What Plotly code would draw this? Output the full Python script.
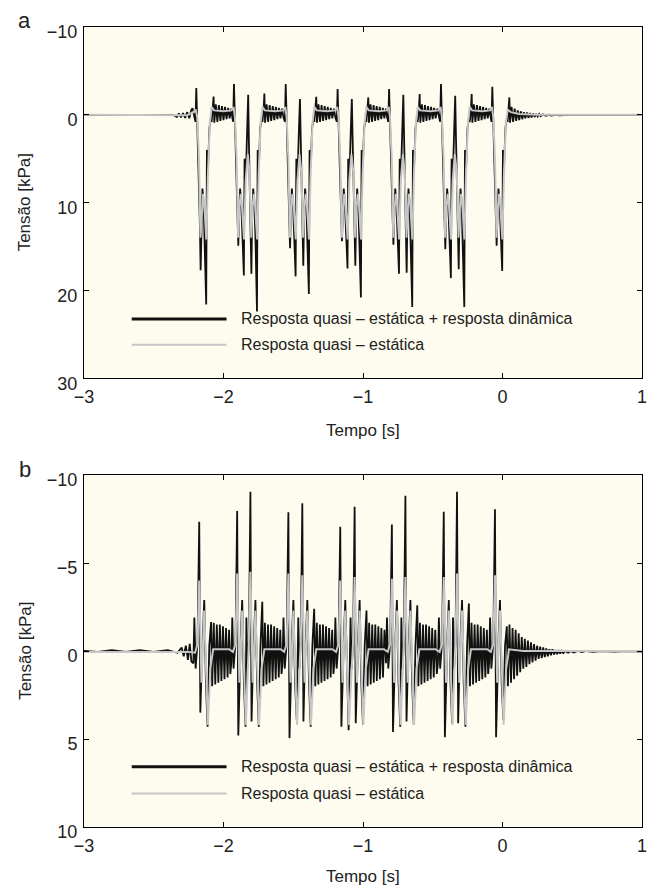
import plotly.graph_objects as go

# ---------------- data ----------------
X_TICKS = [-3, -2, -1, 0, 1]
A_Y_TICKS = [-10, 0, 10, 20, 30]
B_Y_TICKS = [-10, -5, 0, 5, 10]

SERIES_NAMES = ["Resposta quasi – estática + resposta dinâmica", "Resposta quasi – estática"]

# panel a : quasi-static + dynamic response (t [s], tension [kPa])
A_BLACK = [
    (-3.000, 0.0), (-2.360, 0.0), (-2.335, 0.25), (-2.320, -0.15), (-2.305, 0.3), (-2.290, -0.2),
    (-2.275, 0.35), (-2.260, -0.3), (-2.245, 0.4), (-2.232, -0.5), (-2.222, -0.75), (-2.212, 0.2),
    (-2.201, 0.8), (-2.195, -3.04), (-2.189, 0.6), (-2.179, 4.0), (-2.170, 12.0), (-2.164, 17.7),
    (-2.159, 12.0), (-2.151, 8.4), (-2.143, 10.0), (-2.135, 14.0), (-2.124, 21.6), (-2.119, 4.0),
    (-2.111, 6.0), (-2.101, 1.5), (-2.091, 0.5), (-2.085, 0.8), (-2.077, -0.4), (-2.071, -2.09), (-2.066, 0.9),
    (-2.055, -1.2), (-2.044, 0.8), (-2.033, -1.1), (-2.022, 0.7), (-2.011, -1.0), (-2.000, 0.6),
    (-1.989, -0.9), (-1.978, 0.5), (-1.967, -0.8), (-1.956, 0.4), (-1.945, -0.7), (-1.937, 0.3),
    (-1.931, 0.8), (-1.925, -3.5), (-1.919, 0.6), (-1.909, 4.0), (-1.900, 12.0), (-1.894, 14.9),
    (-1.889, 12.0), (-1.881, 8.4), (-1.873, 10.0), (-1.865, 14.0), (-1.854, 18.3), (-1.849, 5.0),
    (-1.840, 7.0), (-1.830, 1.5), (-1.823, -2.28), (-1.818, 3.0),
    (-1.809, 9.0), (-1.800, 18.1), (-1.795, 12.0), (-1.787, 8.4), (-1.779, 10.0), (-1.771, 14.0),
    (-1.760, 22.4), (-1.755, 4.0), (-1.747, 6.0), (-1.737, 1.5), (-1.727, 0.5), (-1.721, 0.8),
    (-1.713, -0.4), (-1.707, -2.43), (-1.702, 0.9),
    (-1.691, -1.2), (-1.680, 0.8), (-1.669, -1.1), (-1.658, 0.7), (-1.647, -1.0), (-1.636, 0.6),
    (-1.625, -0.9), (-1.614, 0.5), (-1.603, -0.8), (-1.592, 0.4), (-1.581, -0.7), (-1.570, 0.3),
    (-1.560, 0.8), (-1.554, -3.5), (-1.548, 0.6), (-1.538, 4.0), (-1.529, 12.0), (-1.523, 15.2),
    (-1.518, 12.0), (-1.510, 8.4), (-1.502, 10.0), (-1.494, 14.0), (-1.483, 18.4), (-1.478, 5.0),
    (-1.469, 7.0), (-1.459, 1.5), (-1.452, -1.79), (-1.446, 3.0),
    (-1.437, 9.0), (-1.428, 17.2), (-1.423, 12.0), (-1.415, 8.4), (-1.407, 10.0), (-1.399, 14.0),
    (-1.388, 20.4), (-1.383, 4.0), (-1.375, 6.0), (-1.365, 1.5), (-1.355, 0.5), (-1.349, 0.8),
    (-1.341, -0.4), (-1.335, -2.05), (-1.330, 0.9),
    (-1.319, -1.2), (-1.308, 0.8), (-1.297, -1.1), (-1.286, 0.7), (-1.275, -1.0), (-1.264, 0.6),
    (-1.253, -0.9), (-1.242, 0.5), (-1.231, -0.8), (-1.220, 0.4), (-1.209, -0.7), (-1.198, 0.3),
    (-1.188, 0.8), (-1.182, -2.93), (-1.176, 0.6), (-1.166, 4.0), (-1.157, 12.0), (-1.151, 14.4),
    (-1.146, 12.0), (-1.138, 8.4), (-1.130, 10.0), (-1.122, 14.0), (-1.111, 17.5), (-1.106, 5.0),
    (-1.097, 7.0), (-1.087, 1.5), (-1.080, -1.79), (-1.074, 3.0),
    (-1.064, 9.0), (-1.055, 17.2), (-1.050, 12.0), (-1.042, 8.4), (-1.034, 10.0), (-1.026, 14.0),
    (-1.015, 20.8), (-1.010, 4.0), (-1.002, 6.0), (-0.992, 1.5), (-0.982, 0.5), (-0.976, 0.8),
    (-0.968, -0.4), (-0.962, -1.98), (-0.957, 0.9),
    (-0.946, -1.2), (-0.935, 0.8), (-0.924, -1.1), (-0.913, 0.7), (-0.902, -1.0), (-0.891, 0.6),
    (-0.880, -0.9), (-0.869, 0.5), (-0.858, -0.8), (-0.847, 0.4), (-0.836, -0.7), (-0.827, 0.3),
    (-0.819, 0.8), (-0.813, -2.93), (-0.807, 0.6), (-0.797, 4.0), (-0.788, 12.0), (-0.782, 14.8),
    (-0.777, 12.0), (-0.769, 8.4), (-0.761, 10.0), (-0.753, 14.0), (-0.742, 18.1), (-0.737, 5.0),
    (-0.728, 7.0), (-0.718, 1.5), (-0.711, -2.28), (-0.705, 3.0),
    (-0.696, 9.0), (-0.687, 18.0), (-0.682, 12.0), (-0.674, 8.4), (-0.666, 10.0), (-0.658, 14.0),
    (-0.647, 21.9), (-0.642, 4.0), (-0.634, 6.0), (-0.624, 1.5), (-0.614, 0.5), (-0.608, 0.8),
    (-0.600, -0.4), (-0.594, -2.36), (-0.589, 0.9),
    (-0.578, -1.2), (-0.567, 0.8), (-0.556, -1.1), (-0.545, 0.7), (-0.534, -1.0), (-0.523, 0.6),
    (-0.512, -0.9), (-0.501, 0.5), (-0.490, -0.8), (-0.479, 0.4), (-0.468, -0.7), (-0.457, 0.3),
    (-0.447, 0.8), (-0.441, -3.5), (-0.435, 0.6), (-0.425, 4.0), (-0.416, 12.0), (-0.410, 15.3),
    (-0.405, 12.0), (-0.397, 8.4), (-0.389, 10.0), (-0.381, 14.0), (-0.370, 18.6), (-0.365, 5.0),
    (-0.356, 7.0), (-0.346, 1.5), (-0.339, -2.17), (-0.333, 3.0),
    (-0.323, 9.0), (-0.314, 17.6), (-0.309, 12.0), (-0.301, 8.4), (-0.293, 10.0), (-0.285, 14.0),
    (-0.274, 21.9), (-0.269, 4.0), (-0.261, 6.0), (-0.251, 1.5), (-0.241, 0.5), (-0.235, 0.8),
    (-0.227, -0.4), (-0.221, -2.36), (-0.216, 0.9),
    (-0.205, -1.2), (-0.194, 0.8), (-0.183, -1.1), (-0.172, 0.7), (-0.161, -1.0), (-0.150, 0.6),
    (-0.139, -0.9), (-0.128, 0.5), (-0.117, -0.8), (-0.106, 0.4), (-0.095, -0.7), (-0.087, 0.3),
    (-0.079, 0.8), (-0.073, -3.19), (-0.067, 0.6), (-0.057, 4.0), (-0.048, 12.0), (-0.042, 14.9),
    (-0.037, 12.0), (-0.029, 8.4), (-0.021, 10.0), (-0.013, 14.0), (-0.002, 17.8), (0.003, 4.0),
    (0.011, 6.0), (0.021, 1.5), (0.031, 0.5), (0.037, 0.8), (0.044, -0.4), (0.049, -1.98), (0.054, 0.9),
    (0.065, -0.9), (0.076, 0.8), (0.087, -0.7), (0.098, 0.7), (0.109, -0.5), (0.120, 0.6),
    (0.131, -0.4), (0.142, 0.5), (0.153, -0.3), (0.164, 0.4), (0.175, -0.25), (0.186, 0.35),
    (0.197, -0.2), (0.208, 0.3), (0.219, -0.15), (0.230, 0.25), (0.241, -0.1), (0.252, 0.2),
    (0.263, -0.1), (0.274, 0.15), (0.290, -0.05), (0.310, 0.1), (0.330, 0.0), (0.350, 0.08),
    (0.380, 0.0), (0.410, 0.05), (0.470, 0.0), (1.000, 0.0),
]

# panel a : quasi-static response
A_GREY = [
    (-3.000, 0.0), (-2.360, 0.0), (-2.260, 0.05), (-2.215, -0.3), (-2.200, -0.6),
    (-2.188, 0.3), (-2.176, 5.0), (-2.165, 14.0), (-2.155, 10.5), (-2.147, 9.0), (-2.139, 10.0),
    (-2.131, 13.0), (-2.123, 14.2), (-2.112, 7.0), (-2.098, 1.0), (-2.085, -0.9),
    (-2.068, -0.5), (-2.000, -0.4), (-1.943, -0.5), (-1.928, -0.9),
    (-1.918, 0.3), (-1.906, 5.0), (-1.895, 14.0), (-1.885, 10.5), (-1.877, 9.0), (-1.869, 10.0),
    (-1.861, 13.0), (-1.853, 14.2), (-1.841, 7.5), (-1.826, 4.5),
    (-1.814, 6.5), (-1.801, 14.0), (-1.791, 10.5), (-1.783, 9.0), (-1.775, 10.0), (-1.767, 13.0),
    (-1.759, 14.2), (-1.748, 7.0), (-1.734, 1.0), (-1.721, -0.9),
    (-1.704, -0.5), (-1.630, -0.4), (-1.572, -0.5), (-1.557, -0.9),
    (-1.547, 0.3), (-1.535, 5.0), (-1.524, 14.0), (-1.514, 10.5), (-1.506, 9.0), (-1.498, 10.0),
    (-1.490, 13.0), (-1.482, 14.2), (-1.470, 7.5), (-1.455, 4.5),
    (-1.442, 6.5), (-1.429, 14.0), (-1.419, 10.5), (-1.411, 9.0), (-1.403, 10.0), (-1.395, 13.0),
    (-1.387, 14.2), (-1.376, 7.0), (-1.362, 1.0), (-1.349, -0.9),
    (-1.332, -0.5), (-1.255, -0.4), (-1.200, -0.5), (-1.185, -0.9),
    (-1.175, 0.3), (-1.163, 5.0), (-1.152, 14.0), (-1.142, 10.5), (-1.134, 9.0), (-1.126, 10.0),
    (-1.118, 13.0), (-1.110, 14.2), (-1.098, 7.5), (-1.083, 4.5),
    (-1.069, 6.5), (-1.056, 14.0), (-1.046, 10.5), (-1.038, 9.0), (-1.030, 10.0), (-1.022, 13.0),
    (-1.014, 14.2), (-1.003, 7.0), (-0.989, 1.0), (-0.976, -0.9),
    (-0.959, -0.5), (-0.885, -0.4), (-0.831, -0.5), (-0.816, -0.9),
    (-0.806, 0.3), (-0.794, 5.0), (-0.783, 14.0), (-0.773, 10.5), (-0.765, 9.0), (-0.757, 10.0),
    (-0.749, 13.0), (-0.741, 14.2), (-0.729, 7.5), (-0.714, 4.5),
    (-0.701, 6.5), (-0.688, 14.0), (-0.678, 10.5), (-0.670, 9.0), (-0.662, 10.0), (-0.654, 13.0),
    (-0.646, 14.2), (-0.635, 7.0), (-0.621, 1.0), (-0.608, -0.9),
    (-0.591, -0.5), (-0.515, -0.4), (-0.459, -0.5), (-0.444, -0.9),
    (-0.434, 0.3), (-0.422, 5.0), (-0.411, 14.0), (-0.401, 10.5), (-0.393, 9.0), (-0.385, 10.0),
    (-0.377, 13.0), (-0.369, 14.2), (-0.357, 7.5), (-0.342, 4.5),
    (-0.328, 6.5), (-0.315, 14.0), (-0.305, 10.5), (-0.297, 9.0), (-0.289, 10.0), (-0.281, 13.0),
    (-0.273, 14.2), (-0.262, 7.0), (-0.248, 1.0), (-0.235, -0.9),
    (-0.218, -0.5), (-0.145, -0.4), (-0.091, -0.5), (-0.076, -0.9),
    (-0.066, 0.3), (-0.054, 5.0), (-0.043, 14.0), (-0.033, 10.5), (-0.025, 9.0), (-0.017, 10.0),
    (-0.009, 13.0), (-0.001, 14.2), (0.010, 7.0), (0.024, 1.0), (0.037, -0.6),
    (0.060, -0.3), (0.120, -0.1), (0.250, 0.0), (1.000, 0.0),
]

# panel b : quasi-static + dynamic response
B_BLACK = [
    (-3.000, 0.0), (-2.900, 0.05), (-2.800, -0.05), (-2.700, 0.05), (-2.600, -0.05), (-2.500, 0.05),
    (-2.400, -0.05), (-2.330, 0.1), (-2.300, -0.2), (-2.285, 0.3), (-2.270, -0.3), (-2.255, 0.5),
    (-2.242, -0.4), (-2.230, 0.6),
    (-2.216, 0.7), (-2.209, -1.9), (-2.200, 1.0), (-2.186, -0.5), (-2.174, -7.34), (-2.166, 3.5),
    (-2.157, 1.0), (-2.148, -0.8), (-2.138, -2.9), (-2.126, 1.8), (-2.114, 4.3), (-2.102, -0.3),
    (-2.089, -1.65), (-2.081, 2.0),
    (-2.070, -1.6), (-2.059, 1.9), (-2.048, -1.5), (-2.037, 1.8), (-2.026, -1.5), (-2.015, 1.7),
    (-2.004, -1.4), (-1.993, 1.6), (-1.982, -1.3), (-1.971, 1.5), (-1.960, -1.2), (-1.951, 1.3),
    (-1.944, 0.7), (-1.937, -1.9), (-1.928, 1.0), (-1.914, -0.5), (-1.902, -7.95), (-1.894, 4.8),
    (-1.885, 1.0), (-1.876, -0.8), (-1.866, -2.9), (-1.854, 1.8), (-1.842, 4.3),
    (-1.836, -1.9), (-1.828, 1.0), (-1.818, -0.5), (-1.807, -9.05), (-1.799, 4.0), (-1.790, 1.0),
    (-1.781, -0.8), (-1.771, -2.9), (-1.759, 1.8), (-1.747, 4.3), (-1.735, -0.3), (-1.722, -2.8), (-1.714, 2.0),
    (-1.703, -1.6), (-1.692, 1.9), (-1.681, -1.5), (-1.670, 1.8), (-1.659, -1.5), (-1.648, 1.7),
    (-1.637, -1.4), (-1.626, 1.6), (-1.615, -1.3), (-1.604, 1.5), (-1.593, -1.2), (-1.584, 1.3),
    (-1.577, 0.7), (-1.570, -1.9), (-1.561, 1.0), (-1.547, -0.5), (-1.535, -7.89), (-1.527, 4.95),
    (-1.518, 1.0), (-1.509, -0.8), (-1.499, -2.9), (-1.487, 1.8), (-1.475, 3.9),
    (-1.464, -1.9), (-1.456, 1.0), (-1.446, -0.5), (-1.435, -8.39), (-1.427, 4.0), (-1.418, 1.0),
    (-1.409, -0.8), (-1.399, -2.9), (-1.387, 1.8), (-1.375, 4.3), (-1.363, -0.3), (-1.350, -2.4), (-1.342, 2.0),
    (-1.331, -1.6), (-1.320, 1.9), (-1.309, -1.5), (-1.298, 1.8), (-1.287, -1.5), (-1.276, 1.7),
    (-1.265, -1.4), (-1.254, 1.6), (-1.243, -1.3), (-1.232, 1.5), (-1.221, -1.2), (-1.212, 1.3),
    (-1.205, 0.7), (-1.198, -1.9), (-1.189, 1.0), (-1.175, -0.5), (-1.163, -7.06), (-1.155, 4.3),
    (-1.146, 1.0), (-1.137, -0.8), (-1.127, -2.9), (-1.115, 1.8), (-1.103, 4.5),
    (-1.089, -1.9), (-1.081, 1.0), (-1.071, -0.5), (-1.060, -8.2), (-1.052, 4.1), (-1.043, 1.0),
    (-1.034, -0.8), (-1.024, -2.9), (-1.012, 1.8), (-1.000, 4.2), (-0.988, -0.3), (-0.975, -2.3), (-0.967, 2.0),
    (-0.956, -1.6), (-0.945, 1.9), (-0.934, -1.5), (-0.923, 1.8), (-0.912, -1.5), (-0.901, 1.7),
    (-0.890, -1.4), (-0.879, 1.6), (-0.868, -1.3), (-0.857, 1.5), (-0.846, -1.2),
    (-0.835, 0.7), (-0.828, -1.9), (-0.819, 1.0), (-0.805, -0.5), (-0.793, -7.19), (-0.785, 4.6),
    (-0.776, 1.0), (-0.767, -0.8), (-0.757, -2.9), (-0.745, 1.8), (-0.733, 4.3),
    (-0.725, -1.9), (-0.717, 1.0), (-0.707, -0.5), (-0.696, -8.82), (-0.688, 4.0), (-0.679, 1.0),
    (-0.670, -0.8), (-0.660, -2.9), (-0.648, 1.8), (-0.636, 4.2), (-0.624, -0.3), (-0.611, -2.6), (-0.603, 2.0),
    (-0.592, -1.6), (-0.581, 1.9), (-0.570, -1.5), (-0.559, 1.8), (-0.548, -1.5), (-0.537, 1.7),
    (-0.526, -1.4), (-0.515, 1.6), (-0.504, -1.3), (-0.493, 1.5), (-0.482, -1.2), (-0.471, 1.3),
    (-0.463, 0.7), (-0.456, -1.9), (-0.447, 1.0), (-0.433, -0.5), (-0.421, -7.91), (-0.413, 4.9),
    (-0.404, 1.0), (-0.395, -0.8), (-0.385, -2.9), (-0.373, 1.8), (-0.361, 4.1),
    (-0.355, -1.9), (-0.347, 1.0), (-0.337, -0.5), (-0.326, -9.05), (-0.318, 4.1), (-0.309, 1.0),
    (-0.300, -0.8), (-0.290, -2.9), (-0.278, 1.8), (-0.266, 4.3), (-0.254, -0.3), (-0.241, -2.7), (-0.233, 2.0),
    (-0.222, -1.6), (-0.211, 1.9), (-0.200, -1.5), (-0.189, 1.8), (-0.178, -1.5), (-0.167, 1.7),
    (-0.156, -1.4), (-0.145, 1.6), (-0.134, -1.3), (-0.123, 1.5), (-0.112, -1.2), (-0.103, 1.3),
    (-0.096, 0.7), (-0.089, -1.9), (-0.080, 1.0), (-0.066, -0.5), (-0.054, -8.05), (-0.046, 4.9),
    (-0.037, 1.0), (-0.028, -0.8), (-0.018, -2.9), (-0.006, 1.8), (0.006, 3.9), (0.018, -0.3),
    (0.031, -1.4), (0.039, 2.0),
    (0.050, -1.5), (0.061, 1.8), (0.072, -1.3), (0.083, 1.6), (0.094, -1.2), (0.105, 1.4),
    (0.116, -1.0), (0.127, 1.2), (0.138, -0.8), (0.149, 1.0), (0.160, -0.7), (0.171, 0.9),
    (0.182, -0.6), (0.193, 0.75), (0.204, -0.5), (0.215, 0.65), (0.226, -0.4), (0.237, 0.55),
    (0.248, -0.3), (0.259, 0.45), (0.270, -0.25), (0.281, 0.4), (0.292, -0.2), (0.303, 0.35),
    (0.314, -0.15), (0.325, 0.3), (0.336, -0.1), (0.347, 0.25), (0.358, -0.1), (0.369, 0.2),
    (0.380, -0.05), (0.391, 0.18), (0.402, -0.05), (0.413, 0.15), (0.424, 0.0), (0.435, 0.12),
    (0.450, 0.0), (0.470, 0.1), (0.490, 0.0), (0.510, 0.08), (0.540, 0.0), (0.570, 0.06),
    (0.600, 0.0), (0.650, 0.05), (0.700, 0.0), (0.800, 0.04), (0.900, 0.0), (1.000, 0.03),
]

# panel b : quasi-static response
B_GREY = [
    (-3.000, 0.05), (-2.250, 0.05), (-2.204, 0.1),
    (-2.186, -0.4), (-2.174, -4.0), (-2.158, 1.8), (-2.138, -2.3), (-2.112, 4.2), (-2.094, 1.0),
    (-2.080, 0.3), (-2.074, -0.1), (-1.960, -0.1), (-1.932, 0.05),
    (-1.914, -0.4), (-1.902, -4.4), (-1.886, 1.8), (-1.866, -2.3), (-1.840, 4.2),
    (-1.819, -0.4), (-1.807, -4.5), (-1.791, 1.8), (-1.771, -2.3), (-1.745, 4.2), (-1.727, 1.0),
    (-1.713, 0.3), (-1.707, -0.1), (-1.590, -0.1), (-1.565, 0.05),
    (-1.547, -0.4), (-1.535, -4.4), (-1.519, 1.8), (-1.499, -2.3), (-1.473, 4.2),
    (-1.447, -0.4), (-1.435, -4.3), (-1.419, 1.8), (-1.399, -2.3), (-1.373, 4.2), (-1.355, 1.0),
    (-1.341, 0.3), (-1.335, -0.1), (-1.220, -0.1), (-1.193, 0.05),
    (-1.175, -0.4), (-1.163, -4.0), (-1.147, 1.8), (-1.127, -2.3), (-1.101, 4.2),
    (-1.072, -0.4), (-1.060, -4.2), (-1.044, 1.8), (-1.024, -2.3), (-0.998, 4.2), (-0.980, 1.0),
    (-0.966, 0.3), (-0.960, -0.1), (-0.850, -0.1), (-0.823, 0.05),
    (-0.805, -0.4), (-0.793, -4.1), (-0.777, 1.8), (-0.757, -2.3), (-0.731, 4.2),
    (-0.708, -0.4), (-0.696, -4.2), (-0.680, 1.8), (-0.660, -2.3), (-0.634, 4.2), (-0.616, 1.0),
    (-0.602, 0.3), (-0.596, -0.1), (-0.480, -0.1), (-0.451, 0.05),
    (-0.433, -0.4), (-0.421, -4.2), (-0.405, 1.8), (-0.385, -2.3), (-0.359, 4.2),
    (-0.338, -0.4), (-0.326, -4.4), (-0.310, 1.8), (-0.290, -2.3), (-0.264, 4.2), (-0.246, 1.0),
    (-0.232, 0.3), (-0.226, -0.1), (-0.110, -0.1), (-0.084, 0.05),
    (-0.066, -0.4), (-0.054, -4.3), (-0.038, 1.8), (-0.018, -2.3), (0.008, 4.2), (0.026, 1.0),
    (0.040, 0.3), (0.046, -0.1), (0.150, 0.0), (1.000, 0.0),
]

# ---------------- styling ----------------
BLACK = "#111111"
GREY = "#c6c6c6"
TEXT = "#222222"
FONT = "Liberation Sans, Arial, Helvetica, sans-serif"
BG = "#fdfcef"

fig = go.Figure()


def cols(pairs):
    return [p[0] for p in pairs], [p[1] for p in pairs]


for blk, gry, xa, ya in [(A_BLACK, A_GREY, "x", "y"), (B_BLACK, B_GREY, "x2", "y2")]:
    t, v = cols(blk)
    fig.add_trace(go.Scatter(x=t, y=v, mode="lines", name=SERIES_NAMES[0],
                             line=dict(color=BLACK, width=1.8), xaxis=xa, yaxis=ya,
                             showlegend=False, hoverinfo="skip"))
    t, v = cols(gry)
    fig.add_trace(go.Scatter(x=t, y=v, mode="lines", name=SERIES_NAMES[1],
                             line=dict(color=GREY, width=2), xaxis=xa, yaxis=ya,
                             showlegend=False, hoverinfo="skip"))

axis_common = dict(
    showline=True, linecolor="black", linewidth=1, mirror="ticks",
    ticks="inside", ticklen=5, tickwidth=1, tickcolor="black",
    showgrid=False, zeroline=False,
    tickfont=dict(family=FONT, size=18, color=TEXT),
)

DOM_A = [0.561, 1.0]
DOM_B = [0.0, 0.44]

fig.update_layout(
    width=655, height=888,
    # the page adds an 8 px body margin; offsets compensate so the frames land where the original's do
    margin=dict(l=76, r=21, t=19, b=69),
    paper_bgcolor="white", plot_bgcolor=BG,
    font=dict(family=FONT, color=TEXT),
    xaxis=dict(domain=[0, 1], anchor="y", range=[-3, 1], tickvals=X_TICKS,
               ticklabelstandoff=2, **axis_common),
    yaxis=dict(domain=DOM_A, anchor="x", range=[30, -10], tickvals=A_Y_TICKS,
               ticklabelstandoff=2, ticklabelshift=-5, **axis_common),
    xaxis2=dict(domain=[0, 1], anchor="y2", range=[-3, 1], tickvals=X_TICKS,
                ticklabelstandoff=2, **axis_common),
    yaxis2=dict(domain=DOM_B, anchor="x2", range=[10, -10], tickvals=B_Y_TICKS,
                ticklabelstandoff=2, ticklabelshift=-5, **axis_common),
)

# legends drawn inside each panel (long line samples as in the original)
LEG_X = [-2.658, -1.978, -1.889]
A_LEG_Y = [23.25, 26.2]
B_LEG_Y = [6.58, 8.1]

shapes = []
annotations = []
for xr, yr, rows in [("x", "y", A_LEG_Y), ("x2", "y2", B_LEG_Y)]:
    for i, (col, w) in enumerate([(BLACK, 3), (GREY, 2)]):
        shapes.append(dict(type="line", xref=xr, yref=yr, x0=LEG_X[0], x1=LEG_X[1],
                           y0=rows[i], y1=rows[i], line=dict(color=col, width=w)))
        annotations.append(dict(xref=xr, yref=yr, x=LEG_X[2], y=rows[i], text=SERIES_NAMES[i],
                                showarrow=False, xanchor="left", yanchor="middle",
                                font=dict(family=FONT, size=16, color=TEXT)))

# axis titles and panel letters
for ytitle, xtitle, letter, lab in [(0.7806, 0.496, 1.008, "a"), (0.22, -0.062, 0.4475, "b")]:
    annotations.append(dict(xref="paper", yref="paper", x=-0.106, y=ytitle, text="Tensão [kPa]",
                            textangle=-90, showarrow=False, xanchor="center", yanchor="middle",
                            font=dict(family=FONT, size=17, color=TEXT)))
    annotations.append(dict(xref="paper", yref="paper", x=0.5, y=xtitle, text="Tempo [s]",
                            showarrow=False, xanchor="center", yanchor="middle",
                            font=dict(family=FONT, size=17, color=TEXT)))
    annotations.append(dict(xref="paper", yref="paper", x=-0.106, y=letter, text=lab,
                            showarrow=False, xanchor="center", yanchor="middle",
                            font=dict(family=FONT, size=22, color=TEXT)))

fig.update_layout(shapes=shapes, annotations=annotations)

fig.write_html("out.html")
